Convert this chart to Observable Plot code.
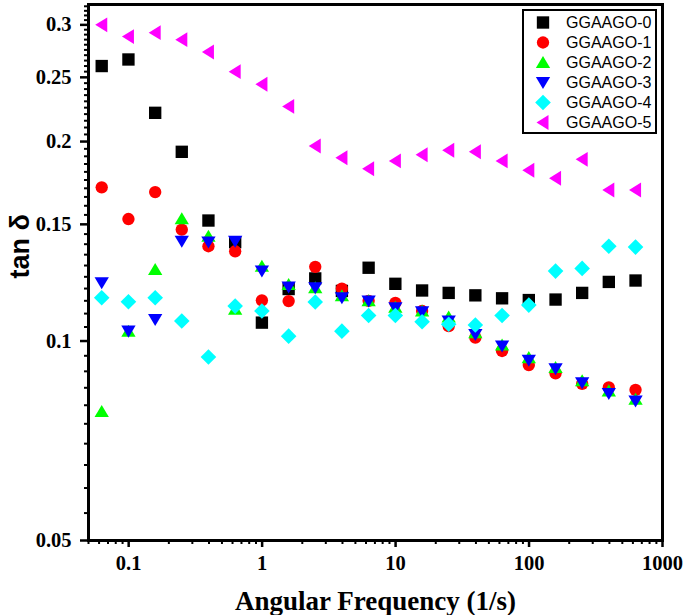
<!DOCTYPE html>
<html>
<head>
<meta charset="utf-8">
<script src="https://cdn.jsdelivr.net/npm/d3@7"></script>
<script src="https://cdn.jsdelivr.net/npm/@observablehq/plot@0.6"></script>
<style>
  body { margin: 0; background: #fff; }
</style>
</head>
<body>
<div id="vis"></div>
<script>
// angular frequency (rad/s), 5 points per decade
const freq = [0.0628, 0.0996, 0.158, 0.25, 0.396, 0.628, 0.996, 1.58, 2.5, 3.96, 6.28,
              9.96, 15.8, 25, 39.6, 62.8, 99.6, 158, 250, 396, 628]

const names = ["GGAAGO-0", "GGAAGO-1", "GGAAGO-2", "GGAAGO-3", "GGAAGO-4", "GGAAGO-5"]
const colors = ["#000000", "#ff0000", "#00ff00", "#0000ff", "#00ffff", "#ff00ff"]

// tan delta
const g0 = [0.260, 0.266, 0.221, 0.193, 0.152, 0.141, 0.1066, 0.1198, 0.1243, 0.119, 0.129,
            0.122, 0.1192, 0.1182, 0.1172, 0.116, 0.1153, 0.1155, 0.1182, 0.1228, 0.1234]
const g1 = [0.1706, 0.1528, 0.1678, 0.1473, 0.139, 0.1366, 0.1152, 0.1149, 0.1294, 0.120, 0.115,
            0.1142, 0.1110, 0.1053, 0.1012, 0.0966, 0.0920, 0.0894, 0.0862, 0.0851, 0.0844]
const g2 = [0.0783, 0.1035, 0.1282, 0.1530, 0.1439, 0.1117, 0.1297, 0.1217, 0.1203, 0.117, 0.115,
            0.1125, 0.111, 0.1087, 0.1029, 0.0986, 0.0944, 0.0912, 0.0871, 0.0841, 0.0817]
const g3 = [0.1224, 0.1035, 0.1078, 0.1414, 0.1411, 0.1414, 0.1275, 0.1206, 0.1203, 0.1162, 0.1149,
            0.1122, 0.1107, 0.1072, 0.1023, 0.0983, 0.0935, 0.0908, 0.0865, 0.0833, 0.0812]
const g4 = [0.1162, 0.1146, 0.1162, 0.1072, 0.0946, 0.1129, 0.1110, 0.1017, 0.1145, 0.1035, 0.1093,
            0.1093, 0.1069, 0.1060, 0.1057, 0.1093, 0.1133, 0.1275, 0.1287, 0.139, 0.1386]
const g5 = [0.300, 0.288, 0.292, 0.285, 0.273, 0.255, 0.244, 0.226, 0.197, 0.189, 0.182,
            0.187, 0.191, 0.194, 0.193, 0.187, 0.181, 0.176, 0.188, 0.169, 0.169]
const values = [g0, g1, g2, g3, g4, g5]

const xTicks = [0.1, 1, 10, 100, 1000]
const yTicks = [0.05, 0.1, 0.15, 0.2, 0.25, 0.3]

// minor ticks
const xMinor = []
for (let e = -2; e < 3; e++) for (let m = 2; m < 10; m++) {
  const v = m * Math.pow(10, e)
  if (v >= 0.05 && v <= 1000) xMinor.push(v)
}
const yMinor = d3.range(11, 65).map(i => i * 0.005).filter(v => !yTicks.some(t => Math.abs(t - v) < 1e-9))

// marker shapes (size = pi*r^2)
const rad = size => Math.sqrt(size / Math.PI)
const square = {draw(c, size) { const h = rad(size) * 0.95; c.rect(-h, -h, 2 * h, 2 * h) }}
const circle = {draw(c, size) { const r = rad(size) * 0.95; c.moveTo(r, 0); c.arc(0, 0, r, 0, 2 * Math.PI) }}
const triUp = {draw(c, size) { const s = rad(size); c.moveTo(0, -s); c.lineTo(1.1 * s, 0.85 * s); c.lineTo(-1.1 * s, 0.85 * s); c.closePath() }}
const triDown = {draw(c, size) { const s = rad(size); c.moveTo(0, s); c.lineTo(1.1 * s, -0.85 * s); c.lineTo(-1.1 * s, -0.85 * s); c.closePath() }}
const diamond = {draw(c, size) { const s = rad(size) * 1.2; c.moveTo(0, -s); c.lineTo(s, 0); c.lineTo(0, s); c.lineTo(-s, 0); c.closePath() }}
const triLeft = {draw(c, size) { const s = rad(size); c.moveTo(-s, 0); c.lineTo(0.85 * s, -1.15 * s); c.lineTo(0.85 * s, 1.15 * s); c.closePath() }}
const shapes = [square, circle, triUp, triDown, diamond, triLeft]

const serif = "'Liberation Serif', 'Times New Roman', serif"
const sans = "'Liberation Sans', Arial, sans-serif"

const dots = names.map((name, i) =>
  Plot.dot(freq.map((f, j) => ({f, v: values[i][j]})), {
    x: "f", y: "v", symbol: shapes[i], r: 6.5, fill: colors[i], stroke: "none"
  })
)

const chart = Plot.plot({
  width: 685,
  height: 615,
  marginLeft: 88,
  marginRight: 23,
  marginTop: 4,
  marginBottom: 75,
  x: {type: "log", domain: [0.05, 1000]},
  y: {type: "log", domain: [0.05, 0.322]},
  style: {background: "#fff", color: "#000", fontFamily: serif, fontWeight: "bold"},
  marks: [
    ...dots,
    Plot.frame({stroke: "#000", strokeWidth: 3}),
    Plot.axisX(xMinor, {tickSize: 4, strokeWidth: 2, tickFormat: () => "", label: null}),
    Plot.axisX(xTicks, {
      tickSize: 7, strokeWidth: 2.5, tickPadding: 8, label: null,
      tickFormat: d => String(d)
    }),
    Plot.axisY(yMinor, {tickSize: 4, strokeWidth: 2, tickFormat: () => "", label: null}),
    Plot.axisY(yTicks, {
      tickSize: 8, strokeWidth: 2.5, tickPadding: 9, label: null,
      tickFormat: d => String(d)
    }),
    Plot.text(["Angular Frequency (1/s)"], {
      frameAnchor: "bottom", dy: 61, lineAnchor: "middle",
      fontWeight: "bold", fontFamily: serif, fill: "#000"
    }),
    Plot.text(["tan δ"], {
      frameAnchor: "left", dx: -68, dy: 6, rotate: -90, lineAnchor: "middle",
      fontWeight: "bold", fontFamily: sans, fill: "#000"
    })
  ]
})

const svg = d3.select(chart)
// tick labels and axis titles sizes
svg.selectAll("g[aria-label] text")
  .filter(function () { return this.parentNode.getAttribute("aria-label") !== "text" })
  .style("font-size", "20.5px")
svg.selectAll('g[aria-label="text"]').style("font-size", "27px")

// legend box in the top right corner of the frame
const lg = svg.append("g").attr("transform", "translate(523,10)")
lg.append("rect")
  .attr("width", 133).attr("height", 123)
  .attr("fill", "#fff").attr("stroke", "#000").attr("stroke-width", 2)
names.forEach((name, i) => {
  const row = lg.append("g").attr("transform", `translate(0,${12.5 + i * 20})`)
  row.append("path")
    .attr("transform", "translate(20,0)")
    .attr("d", d3.symbol(shapes[i], Math.PI * 6.5 * 6.5)())
    .attr("fill", colors[i])
  row.append("text")
    .attr("x", 43).attr("dy", "0.35em")
    .attr("text-anchor", "start")
    .attr("font-family", sans)
    .attr("font-weight", "normal")
    .attr("font-size", 16)
    .attr("fill", "#000")
    .text(name)
})

d3.select("#vis").append(() => chart)
</script>
</body>
</html>
